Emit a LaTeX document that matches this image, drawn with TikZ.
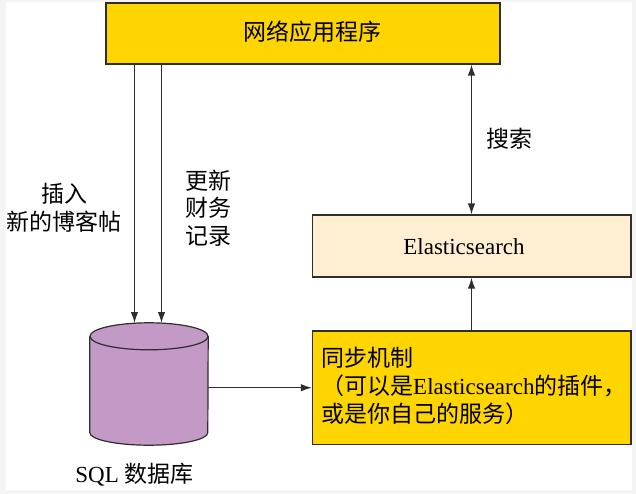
\documentclass[tikz,border=0pt]{standalone}
\usepackage{fontspec}
\setmainfont{Liberation Serif}
\newfontfamily\cjk{Noto Sans CJK SC}
\usetikzlibrary{arrows.meta,positioning}
\definecolor{amber}{HTML}{FFD500}
\definecolor{cream}{HTML}{FFEFD2}
\definecolor{mauve}{HTML}{C39AC6}
\definecolor{edge}{HTML}{2E2E2E}
\definecolor{margin}{HTML}{F4F4F4}
\begin{document}
\begin{tikzpicture}[
			x=1pt, y=-1pt,
			box/.style={draw=edge, rectangle, line width=1.2pt, inner sep=0pt},
			appBox/.style={box, fill=amber, minimum width=394pt, minimum height=61pt},
			esBox/.style={box, fill=cream, minimum width=318.5pt, minimum height=62pt},
			syncBox/.style={box, fill=amber, minimum width=318.5pt, minimum height=113.5pt},
			dbBox/.style={rectangle, inner sep=0pt, minimum width=118pt, minimum height=122pt},
			dbPart/.style={draw=edge, fill=mauve, line width=1.2pt},
			title/.style={fill=none, inner sep=0pt, font=\fontsize{23pt}{27.5pt}\selectfont\cjk, align=center},
			arrowStrong/.style={line width=1.3pt, draw=edge, -{Latex[length=11pt,width=7.5pt]}},
			arrowBoth/.style={line width=1.3pt, draw=edge, {Latex[length=11pt,width=7.5pt]}-{Latex[length=11pt,width=7.5pt]}},
			]
			\fill[margin] (0,0) rectangle (636,494);
			\fill[white] (6,2) rectangle (632,490);
			\useasboundingbox (0,0) rectangle (636,494);

			% boxes
			\draw node[appBox] (app) at (303,33.5) {};
			\draw node[title] (appText) at (312,32) {网络应用程序};
			\draw node[esBox] (es) at (471.75,246) {};
			\draw node[title, font=\fontsize{23pt}{27.5pt}\selectfont] (esText) at (464,246.5) {Elasticsearch};
			\draw node[syncBox] (sync) at (471.75,387.75) {};
			\draw node[title, align=left, anchor=west, font=\fontsize{23pt}{28pt}\selectfont] (syncText) at (321,386)
				{{\cjk 同步机制}\\{\cjk （可以是}Elasticsearch{\cjk 的插件，}\\{\cjk 或是你自己的服务）}};

			% cylinder
			\draw node[dbBox] (db) at (149,384) {};
			\draw[dbPart] ([yshift=-13.5pt]db.north west) -- ([yshift=12.5pt]db.south west)
				arc[start angle=180, end angle=360, x radius=59pt, y radius=12.5pt]
				-- ([yshift=-13.5pt]db.north east);
			\draw[dbPart] ([yshift=-13.5pt]db.north) ellipse[x radius=59pt, y radius=13.5pt];
			\draw node[title] (dbText) [below=18pt of db, xshift=-14.5pt] {\fontsize{23pt}{27.5pt}\selectfont\rmfamily SQL {\cjk 数据库}};

			% free ends on the cylinder top
			\coordinate (insertTop) at (134.5,64);
			\coordinate (insertEnd) at (134.5,323);
			\coordinate (updateTop) at (161.5,64);
			\coordinate (updateEnd) at (161.5,323);

			% labels
			\draw node[title] (insertText) at (64,208) {插入\\新的博客帖};
			\draw node[title, align=left] (updateText) at (208.5,208) {更新\\财务\\记录};
			\draw node[title] (searchText) at (509.5,139) {搜索};

			% Arrow
			\foreach \x in {insert,update}
			\draw [arrowStrong] (\x Top) -- (\x End);

			\draw [arrowBoth] (app.south -| 471.5,0) -- (es.north -| 471.5,0);
			\draw [arrowStrong] (sync.north -| 471.5,0) -- (es.south -| 471.5,0);
			\draw [arrowStrong] (db.east |- sync.west) -- (sync.west);
		\end{tikzpicture}
\end{document}
